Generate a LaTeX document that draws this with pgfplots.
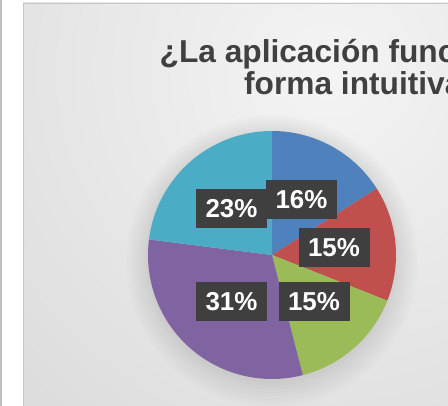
\documentclass[border=0pt]{standalone}
\usepackage{pgfplots}
\pgfplotsset{compat=1.18}
\usepackage{fontspec}
\setmainfont{Liberation Sans}
\definecolor{cBlue}{HTML}{4F81BD}
\definecolor{cRed}{HTML}{C0504D}
\definecolor{cGreen}{HTML}{9BBB59}
\definecolor{cPurple}{HTML}{8064A2}
\definecolor{cCyan}{HTML}{4BACC6}
\definecolor{lbl}{HTML}{3F3F3F}
\definecolor{ttl}{HTML}{404040}
\definecolor{bgIn}{HTML}{F4F4F4}
\definecolor{bgOut}{HTML}{CFCFCF}
% slice values (percent)
\def\vA{16}\def\vB{15}\def\vC{15}\def\vD{31}\def\vE{23}
\pgfmathsetmacro\aA{90}
\pgfmathsetmacro\aB{\aA-\vA*3.6}
\pgfmathsetmacro\aC{\aB-\vB*3.6}
\pgfmathsetmacro\aD{\aC-\vC*3.6}
\pgfmathsetmacro\aE{\aD-\vD*3.6}
\pgfmathsetmacro\aF{\aE-\vE*3.6}
\def\cx{272}\def\cy{-255}\def\R{124}
\begin{document}
\begin{tikzpicture}
\begin{axis}[
  scale only axis, width=448bp, height=406bp,
  xmin=0, xmax=448, ymin=-406, ymax=0,
  hide axis, clip=true,
]
% page background
\fill[white] (axis cs:0,-406) rectangle (axis cs:448,0);
\fill[black!25] (axis cs:0,-406) rectangle (axis cs:1.5,0);
% chart area gradient
\begin{scope}
\clip (axis cs:23,-406) rectangle (axis cs:448,-3);
\shade[inner color=bgIn, outer color=bgOut] (axis cs:330,-70) circle [radius=700];
\end{scope}
\draw[color=black!22, line width=1.2bp] (axis cs:23.5,-406) -- (axis cs:23.5,-3.5) -- (axis cs:448,-3.5);
% soft shadow around pie
\fill[black, opacity=0.012] (axis cs:272,-261) circle [radius=146];
\fill[black, opacity=0.012] (axis cs:272,-260.5) circle [radius=143];
\fill[black, opacity=0.012] (axis cs:272,-260) circle [radius=140];
\fill[black, opacity=0.012] (axis cs:272,-259.5) circle [radius=137];
\fill[black, opacity=0.012] (axis cs:272,-259) circle [radius=134];
\fill[black, opacity=0.012] (axis cs:272,-258.5) circle [radius=131];
\fill[black, opacity=0.012] (axis cs:272,-258) circle [radius=128];
\fill[black, opacity=0.012] (axis cs:272,-257) circle [radius=126];
% pie slices
\addplot[fill=cBlue, draw=none, domain=\aB:\aA, samples=60] ({\cx+\R*cos(x)}, {\cy+\R*sin(x)}) -- (axis cs:272,-255) -- cycle;
\addplot[fill=cRed, draw=none, domain=\aC:\aB, samples=60] ({\cx+\R*cos(x)}, {\cy+\R*sin(x)}) -- (axis cs:272,-255) -- cycle;
\addplot[fill=cGreen, draw=none, domain=\aD:\aC, samples=60] ({\cx+\R*cos(x)}, {\cy+\R*sin(x)}) -- (axis cs:272,-255) -- cycle;
\addplot[fill=cPurple, draw=none, domain=\aE:\aD, samples=90] ({\cx+\R*cos(x)}, {\cy+\R*sin(x)}) -- (axis cs:272,-255) -- cycle;
\addplot[fill=cCyan, draw=none, domain=\aF:\aE, samples=70] ({\cx+\R*cos(x)}, {\cy+\R*sin(x)}) -- (axis cs:272,-255) -- cycle;
% data labels
\tikzset{plbl/.style={fill=lbl, text=white, font=\bfseries\fontsize{26}{26}\selectfont, minimum width=71bp, minimum height=39bp, inner sep=0pt}}
\node[plbl] at (axis cs:301.5,-199.5) {16\%};
\node[plbl] at (axis cs:231.5,-209) {23\%};
\node[plbl] at (axis cs:334,-247.5) {15\%};
\node[plbl] at (axis cs:231.5,-301.5) {31\%};
\node[plbl] at (axis cs:314,-301.5) {15\%};
% title
\node[anchor=base, text=ttl, font=\bfseries\fontsize{31.8}{31.8}\selectfont] at (axis cs:363,-63) {¿La aplicación funciona de};
\node[anchor=base, text=ttl, font=\bfseries\fontsize{31.8}{31.8}\selectfont] at (axis cs:363,-95) {forma intuitiva?};
\end{axis}
\pgfresetboundingbox
\path (current axis.south west) rectangle (current axis.north east);
\end{tikzpicture}
\end{document}
